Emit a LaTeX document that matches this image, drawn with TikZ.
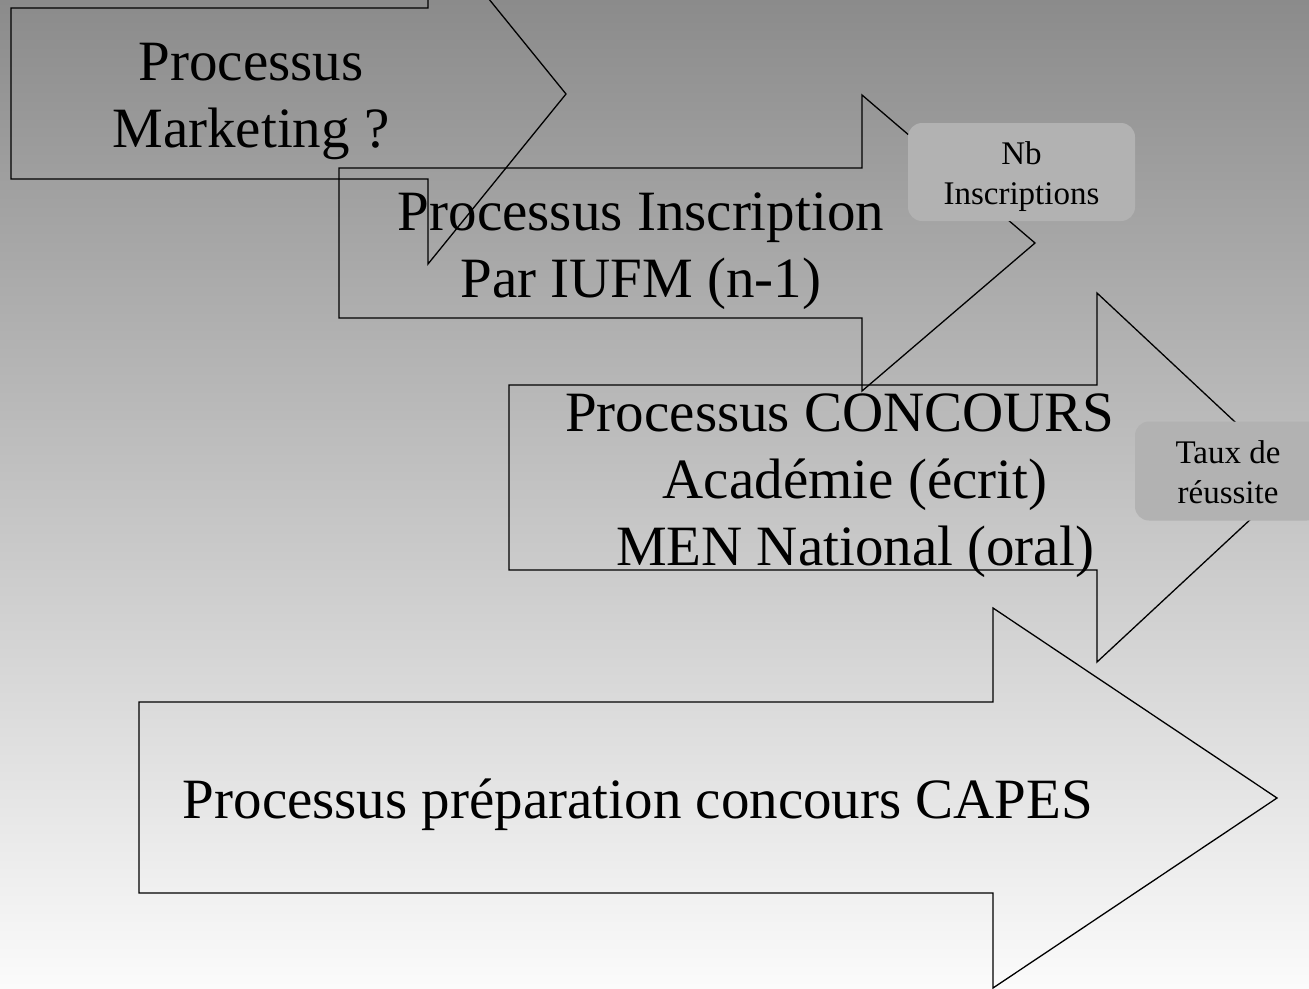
\documentclass[tikz,border=0pt]{standalone}
\usepackage{fontspec}
\setmainfont{Liberation Serif}
\usepackage{tikz}
\usetikzlibrary{calc}

\definecolor{bgtop}{HTML}{8B8B8B}
\definecolor{bgbottom}{HTML}{FBFBFB}
\definecolor{tagfill}{HTML}{B2B2B2}

\begin{document}
\begin{tikzpicture}[x=1pt, y=-1pt,
    procarrow/.style={draw=black, line width=1.3pt, line join=miter},
    proctext/.style={align=center, inner sep=0pt, font=\fontsize{57}{67}\selectfont},
    tag/.style={fill=tagfill, rounded corners=14pt, inner sep=0pt},
    tagtext/.style={align=center, inner sep=0pt, font=\fontsize{33}{40}\selectfont}]

% First, the frame and the grey background
\useasboundingbox (0,0) rectangle (1309,988);
\clip (0,0) rectangle (1309,988);
\shade[top color=bgtop, bottom color=bgbottom] (0,0) rectangle (1309,988);

% The four process arrows, only outlined
\draw[procarrow] (11,8) -- (428,8) -- (428,-76) -- (566,94) -- (428,264) -- (428,179) -- (11,179) -- cycle;
\draw[procarrow] (339,168) -- (862,168) -- (862,95) -- (1035,243) -- (862,391) -- (862,318) -- (339,318) -- cycle;
\draw[procarrow] (509,385) -- (1097,385) -- (1097,293) -- (1295,478) -- (1097,662) -- (1097,570) -- (509,570) -- cycle;
\draw[procarrow] (139,702) -- (993,702) -- (993,608) -- (1277,798) -- (993,988) -- (993,893) -- (139,893) -- cycle;

% Now the texts of the arrows
\node[proctext] (marketing) at (251,101) {Processus\\Marketing ?};
\node[proctext] (inscription) at (641,251) {Processus Inscription\\Par IUFM (n-1)};
\node[proctext] (concours) at (855,486) {Processus CONCOURS\hspace*{30pt}\\Académie (écrit)\\MEN National (oral)};
\node[proctext] (capes) at (638,805) {Processus préparation concours CAPES};

% Finally the two indicators, on top of the arrow heads
\node[tag, minimum width=227pt, minimum height=98pt] (nbinscr) at (1021.5,172) {};
\node[tagtext] (nbtext) at ($(nbinscr)+(0,5)$) {Nb\\Inscriptions};
\node[tag, minimum width=186pt, minimum height=99pt] (tauxreuss) at (1228,471) {};
\node[tagtext] (tauxtext) at ($(tauxreuss)+(0,1)$) {Taux de\\réussite};

\end{tikzpicture}
\end{document}
